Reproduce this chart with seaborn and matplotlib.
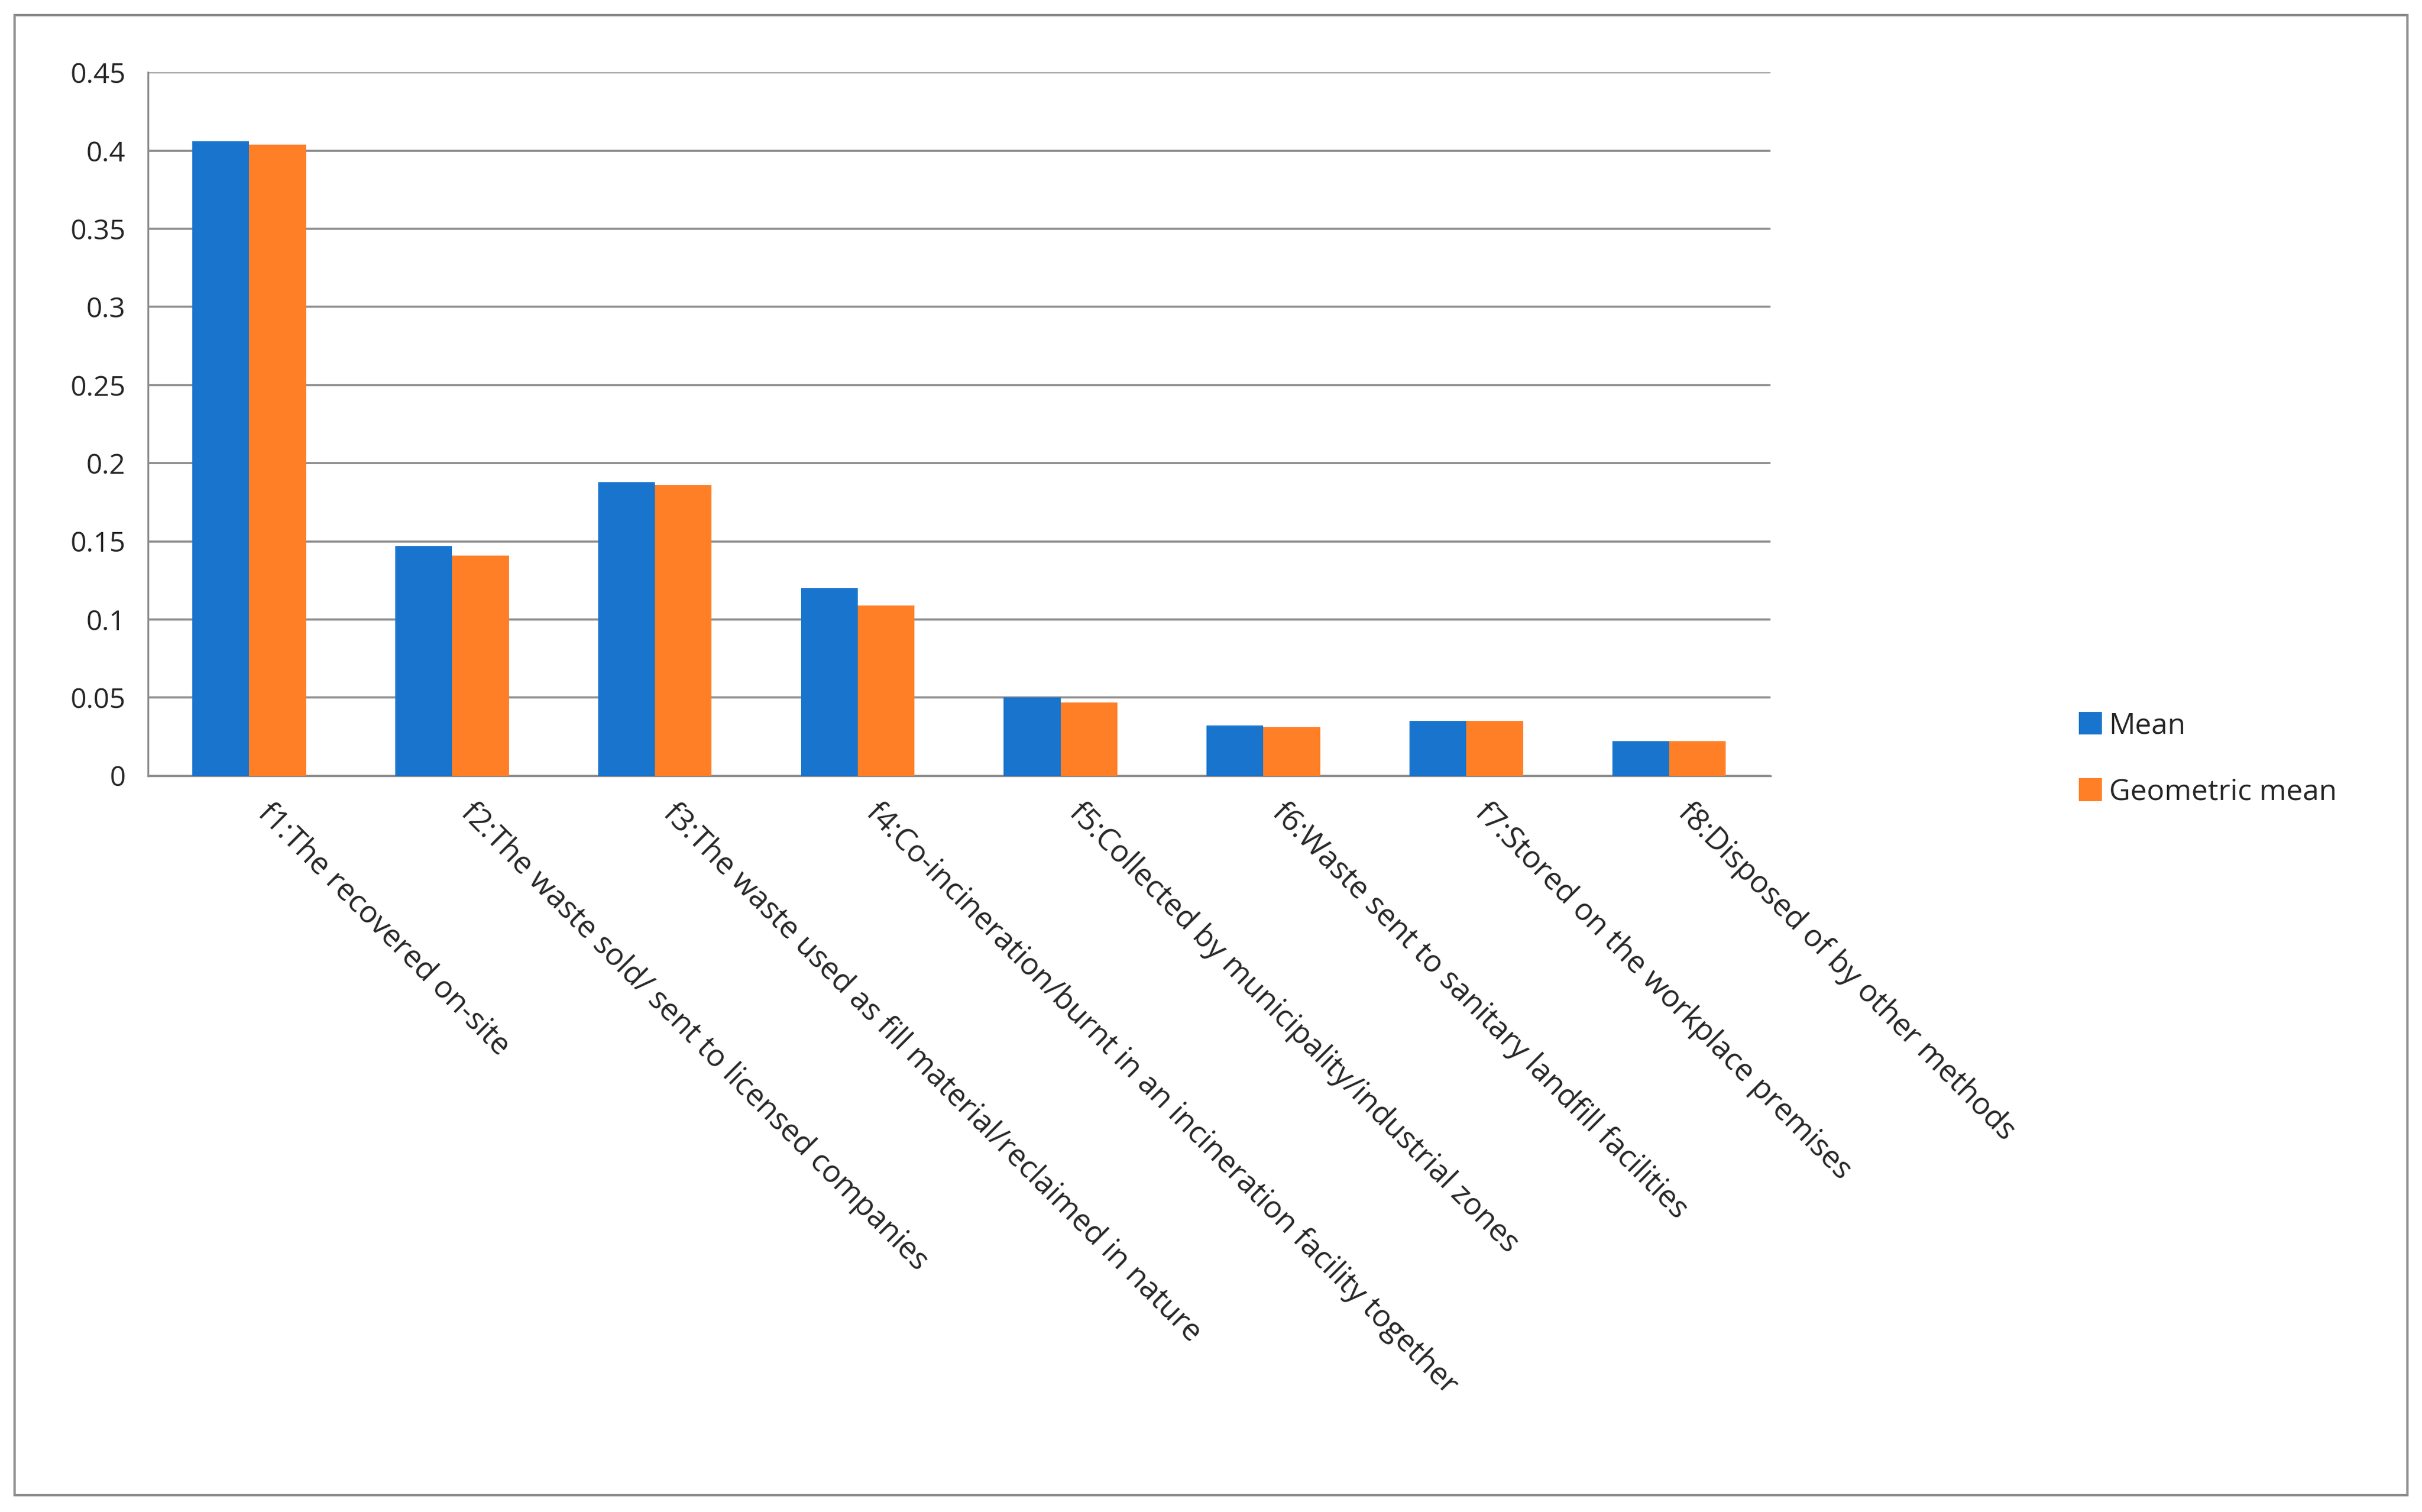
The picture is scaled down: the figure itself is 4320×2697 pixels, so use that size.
import pandas as pd
import matplotlib.pyplot as plt
import matplotlib.patches as mpatches
import seaborn as sns
import numpy as np

# ---------------- Data ----------------
categories = [
    "f1:The recovered on-site",
    "f2:The waste sold/ sent to licensed companies",
    "f3:The waste used as fill material/reclaimed in nature",
    "f4:Co-incineration/burnt in an incineration facility together",
    "f5:Collected by municipality/industrial zones",
    "f6:Waste sent to sanitary landfill facilities",
    "f7:Stored on the workplace premises",
    "f8:Disposed of by other methods",
]
mean_vals = [0.406, 0.147, 0.188, 0.120, 0.050, 0.032, 0.035, 0.022]
geo_vals = [0.404, 0.141, 0.186, 0.109, 0.047, 0.031, 0.035, 0.022]
series = ["Mean", "Geometric mean"]
colors = ["#1874CD", "#FF7F27"]

df = pd.DataFrame({
    "cat": categories * 2,
    "val": mean_vals + geo_vals,
    "series": [series[0]] * 8 + [series[1]] * 8,
})

# ---------------- Plot ----------------
sns.set_style("white")
plt.rcParams['font.family'] = ['Open Sans', 'DejaVu Sans']

fig = plt.figure(figsize=(14.4, 8.99), dpi=300)
ax = fig.add_axes([0.061, 0.487, 0.670, 0.465])
sns.barplot(data=df, x="cat", y="val", hue="series", palette=colors,
            width=0.56, saturation=1, ax=ax, legend=False, zorder=3, linewidth=0)

ax.set_ylim(0, 0.45)
ax.set_xlim(-0.5, 7.5)
ax.set_yticks(np.arange(0, 0.451, 0.05))
ax.set_yticklabels(["0", "0.05", "0.1", "0.15", "0.2", "0.25", "0.3", "0.35", "0.4", "0.45"],
                   fontsize=12)
ax.yaxis.grid(True, color="#8c8c8c", linewidth=0.9, zorder=0)
ax.set_axisbelow(True)
ax.set_xlabel("")
ax.set_ylabel("")
for s in ["top", "right"]:
    ax.spines[s].set_visible(False)
for s in ["left", "bottom"]:
    ax.spines[s].set_color("#8c8c8c")

# tick marks between categories, labels at category centres
ax.set_xticks(np.arange(-0.5, 8, 1), minor=False)
ax.set_xticklabels([])
ax.tick_params(axis="x", which="major", length=6, color="#8c8c8c", direction="out")
ax.tick_params(axis="y", length=6, color="#8c8c8c", direction="out")
for i, lab in enumerate(categories):
    ax.text(i + 0.12, -0.014, lab, rotation=-45, ha="left", va="top",
            rotation_mode="anchor", fontsize=13, transform=ax.transData)

handles = [mpatches.Patch(color=c, label=s) for c, s in zip(colors, series)]
fig.legend(handles=handles, loc="center left", bbox_to_anchor=(0.848, 0.498),
           frameon=False, fontsize=12.5, handlelength=0.7, handleheight=0.7,
           handletextpad=0.3, labelspacing=1.3)

# outer frame
fig.patches.append(mpatches.Rectangle((0.006, 0.011), 0.988, 0.979, transform=fig.transFigure,
                                      fill=False, edgecolor="#8c8c8c", linewidth=1))

plt.savefig("out.png", dpi=300)
